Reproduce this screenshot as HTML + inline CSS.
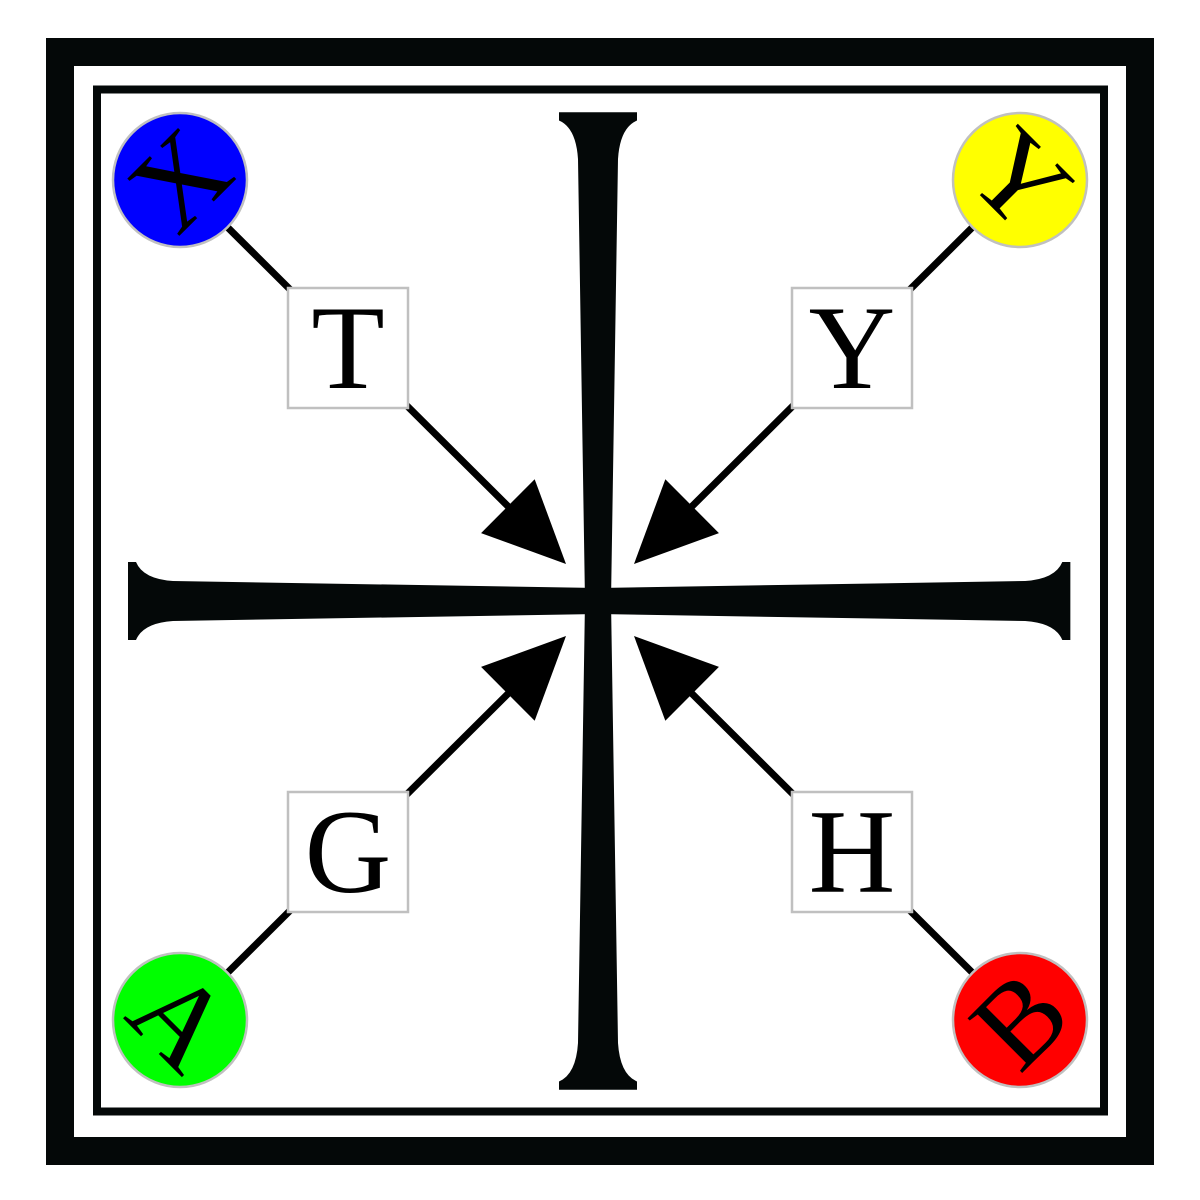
<!DOCTYPE html>
<html><head><meta charset="utf-8"><style>html,body{margin:0;padding:0;background:#fff}svg{display:block}</style></head>
<body>
<svg width="1200" height="1200" viewBox="0 0 1200 1200" font-family="'Liberation Serif', serif">
<rect x="0" y="0" width="1200" height="1200" fill="#fff"/>
<rect x="60" y="52" width="1080" height="1099" fill="none" stroke="#040808" stroke-width="28"/>
<rect x="97" y="89.5" width="1007" height="1022" fill="none" stroke="#040808" stroke-width="8"/>
<defs>
<path id="arm" d="M0,-13 L-425,-20 Q-455,-22 -462,-39 L-470,-39 L-470,39 L-462,39 Q-455,22 -425,20 L0,13 Z" fill="#040808"/>
</defs>
<g>
<g transform="translate(598,601)">
<use href="#arm" transform="scale(1,1)"/>
<use href="#arm" transform="rotate(180) scale(1.005,1)"/>
<use href="#arm" transform="rotate(90) scale(1.04,1)"/>
<use href="#arm" transform="rotate(-90) scale(1.04,1)"/>
</g>
</g>
<g id="arrows"></g>
<g id="nodes"></g>
<script>
const corners=[{cx:180,cy:180,color:'#0000ff',letter:'X',rot:-45,label:'T',bx:348,by:348,tip:[566,564],name:'x'},
{cx:1020,cy:180,color:'#ffff00',letter:'Y',rot:45,label:'Y',bx:852,by:348,tip:[634,564],name:'y'},
{cx:180,cy:1020,color:'#00ff00',letter:'A',rot:45,label:'G',bx:348,by:852,tip:[566,636],name:'a'},
{cx:1020,cy:1020,color:'#ff0000',letter:'B',rot:-45,label:'H',bx:852,by:852,tip:[634,636],name:'b'}];
const NS='http://www.w3.org/2000/svg';
const ag=document.getElementById('arrows'),ng=document.getElementById('nodes');
corners.forEach(c=>{
 const [tx,ty]=c.tip;const dx=tx-c.cx,dy=ty-c.cy,len=Math.hypot(dx,dy),ux=dx/len,uy=dy/len;
 const bx=tx-ux*82,by=ty-uy*82;
 const ln=document.createElementNS(NS,'line');
 ln.setAttribute('x1',c.cx);ln.setAttribute('y1',c.cy);ln.setAttribute('x2',bx+ux*5);ln.setAttribute('y2',by+uy*5);
 ln.setAttribute('stroke','#000');ln.setAttribute('stroke-width','7');
 
 
 ag.appendChild(ln);
 const p=document.createElementNS(NS,'polygon');
 p.setAttribute('points',`${tx},${ty} ${bx-uy*38},${by+ux*38} ${bx+uy*38},${by-ux*38}`);
 p.setAttribute('fill','#000');
 
 
 ag.appendChild(p);
 const ci=document.createElementNS(NS,'circle');
 ci.setAttribute('cx',c.cx);ci.setAttribute('cy',c.cy);ci.setAttribute('r','67');
 ci.setAttribute('fill',c.color);ci.setAttribute('stroke','#c0c0c0');ci.setAttribute('stroke-width','2.5');
 
 
 ng.appendChild(ci);
 const t=document.createElementNS(NS,'text');
 t.setAttribute('x',c.cx);t.setAttribute('y',c.cy+39);t.setAttribute('text-anchor','middle');
 t.setAttribute('font-size','118');t.setAttribute('transform',`rotate(${c.rot} ${c.cx} ${c.cy})`);
 t.textContent=c.letter;
 
 
 ng.appendChild(t);
 const r=document.createElementNS(NS,'rect');
 r.setAttribute('x',c.bx-60);r.setAttribute('y',c.by-60);r.setAttribute('width','120');r.setAttribute('height','120');
 r.setAttribute('fill','#fff');r.setAttribute('stroke','#c0c0c0');r.setAttribute('stroke-width','2.5');
 
 
 ng.appendChild(r);
 const lt=document.createElementNS(NS,'text');
 lt.setAttribute('x',c.bx);lt.setAttribute('y',c.by+40);lt.setAttribute('text-anchor','middle');lt.setAttribute('font-size','120');
 lt.textContent=c.label;
 
 
 ng.appendChild(lt);
});
</script>
</svg>
</body></html>
